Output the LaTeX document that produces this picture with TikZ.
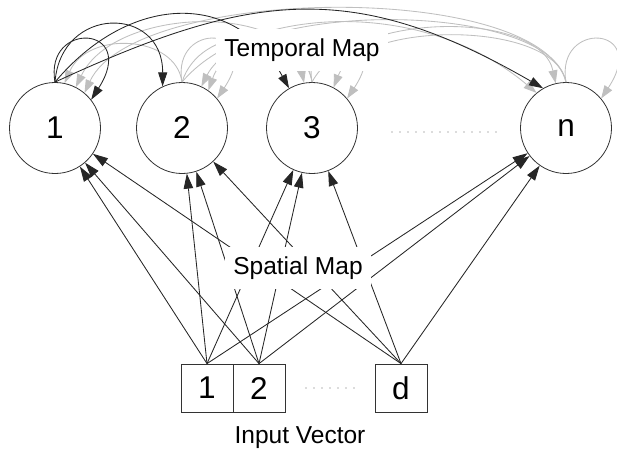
\documentclass[tikz,border=0pt]{standalone}
\usepackage{fontspec}
\setmainfont{Liberation Sans}
\usetikzlibrary{arrows.meta}
\begin{document}
\begin{tikzpicture}[x=1pt,y=-1pt,
  big/.style={font=\fontsize{24.5}{28}\selectfont},
  huge/.style={font=\fontsize{31.5}{36}\selectfont},
  unit/.style={circle,draw=black!80,line width=0.8pt,minimum size=91pt,inner sep=0pt,huge},
  cell/.style={draw=black!80,line width=0.8pt,minimum width=52pt,minimum height=48pt,inner sep=0pt,huge},
  maplabel/.style={fill=white,inner xsep=8pt,inner ysep=10pt,big},
  feed/.style={draw=black!85,line width=0.85pt,-{Triangle[length=15pt,width=9.5pt]}},
  tmain/.style={draw=black!85,line width=0.85pt,-{Triangle[length=14pt,width=9pt]}},
  tother/.style={draw=black!25,line width=0.85pt,-{Triangle[length=13pt,width=9pt]}},
  dotline/.style={draw=black!60,line width=1.2pt,line cap=round,dash pattern=on 0pt off 8pt}
]
\useasboundingbox (0,0) rectangle (617,460);

% units of the map
\node[unit] (c1) at (55,128) {1};
\node[unit] (c2) at (182,128) {2};
\node[unit] (c3) at (312,128) {3};
\node[unit] (cn) at (566,128) {n};

% input vector cells
\node[cell] (b1) at (207,388) {1};
\node[cell] (b2) at (259,388) {2};
\node[cell] (bd) at (401,388) {d};

\draw[dotline] (392,132) -- (502,132);
\draw[dotline] (306,388) -- (356,388);

% spatial connections: every input cell feeds every unit
\foreach \b in {b1,b2,bd}
  \foreach \c in {c1,c2,c3,cn}
    \draw[feed] (\b.north) -- (\c);

% temporal connections leaving units 2, 3 and n
\draw[tother] (c2.north) .. controls (176,35) and (88,30) .. (c1.78);
\draw[tother] (c2.north) .. controls (171,20) and (266,25) .. (c2.40);
\draw[tother] (c2.north) .. controls (200,25) and (292,25) .. (c3.100);
\draw[tother] (c2.north) .. controls (246,6) and (422,-4) .. (cn.130);
\draw[tother] (c3.north) .. controls (300,0) and (115,5) .. (c1.63);
\draw[tother] (c3.north) .. controls (305,35) and (228,35) .. (c2.55);
\draw[tother] (c3.north) .. controls (301,20) and (396,25) .. (c3.40);
\draw[tother] (c3.north) .. controls (350,10) and (540,10) .. (cn.103);
\draw[tother] (cn.north) .. controls (540,-20) and (135,-15) .. (c1.50);
\draw[tother] (cn.north) .. controls (550,0) and (245,0) .. (c2.65);
\draw[tother] (cn.north) .. controls (555,20) and (360,20) .. (c3.62);
\draw[tother] (cn.north) .. controls (555,20) and (650,25) .. (cn.40);

% temporal connections leaving unit 1
\draw[tmain] (c1.north) .. controls (44,20) and (139,25) .. (c1.38);
\draw[tmain] (c1.north) .. controls (61,5) and (163,5) .. (c2.115);
\draw[tmain] (c1.north) .. controls (127,-4) and (233,-13) .. (c3.120);
\draw[tmain] (c1.north) .. controls (252,-9) and (354,-21) .. (cn.120);

% labels
\node[maplabel] (tmap) at (302,50) {Temporal Map};
\node[maplabel] (smap) at (298,268) {Spatial Map};
\node[big] (ivec) at (300,438) {Input Vector};
\end{tikzpicture}
\end{document}
